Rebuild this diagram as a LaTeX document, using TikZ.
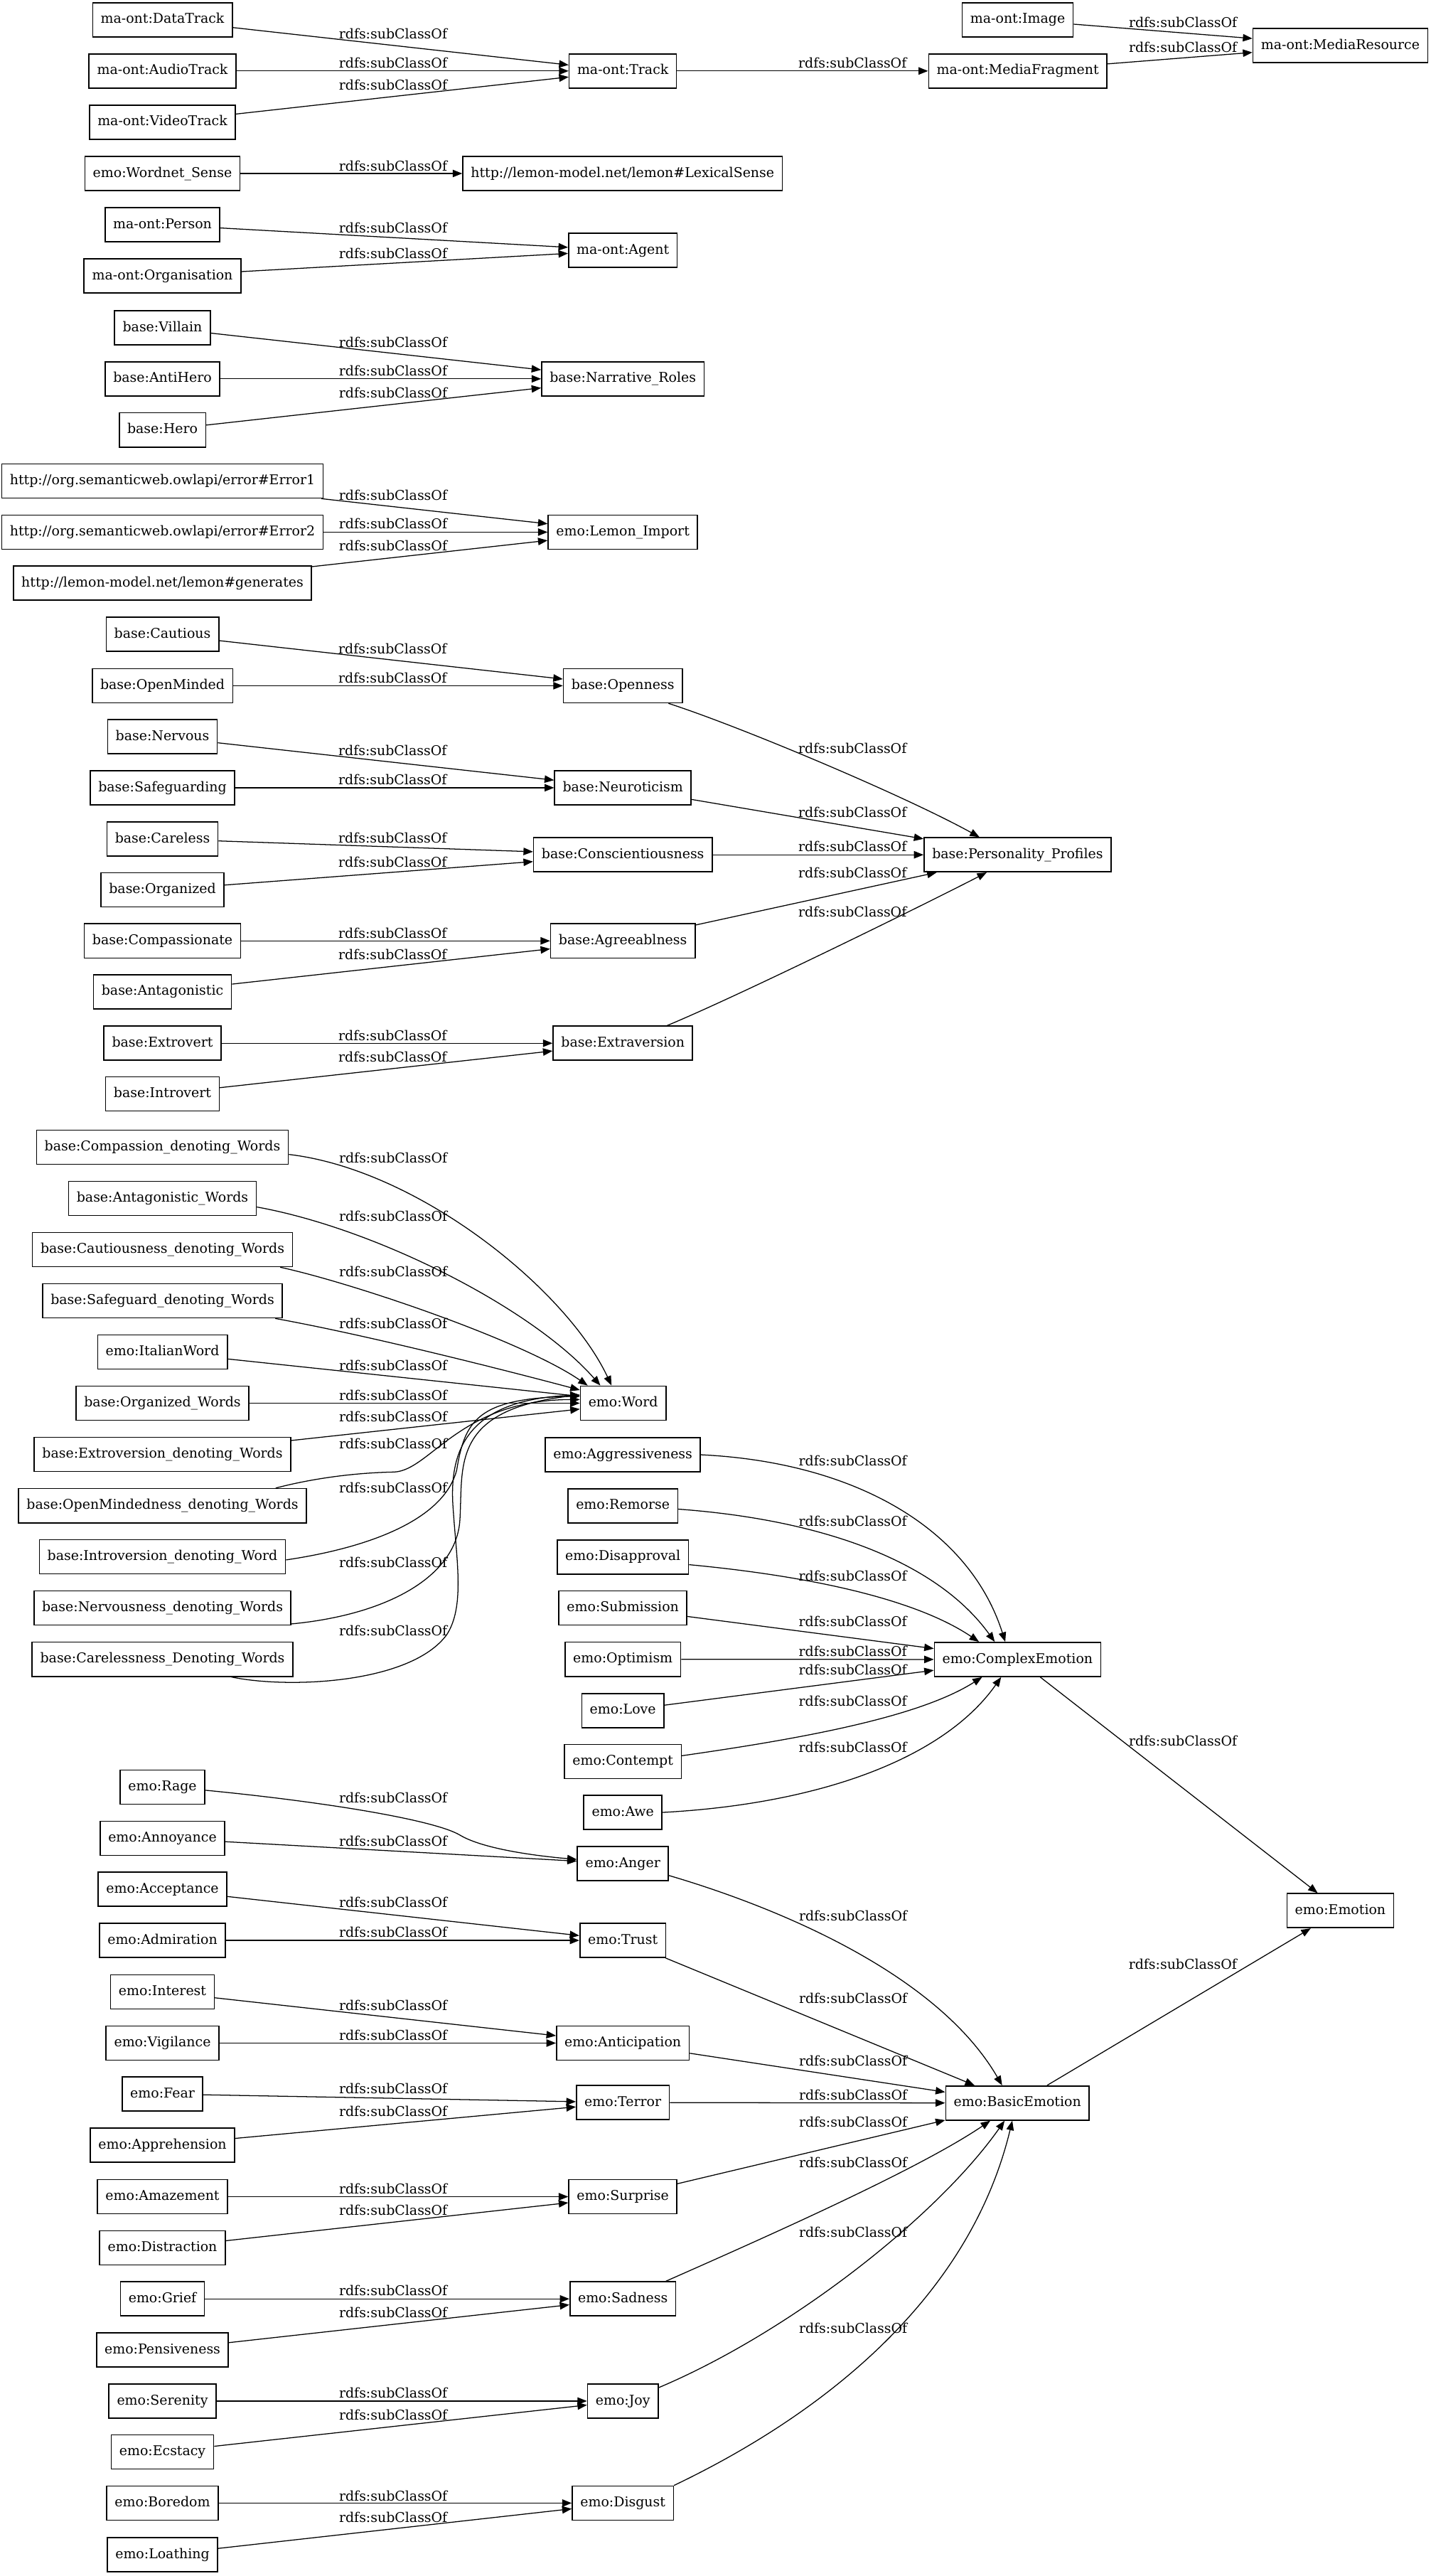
\documentclass[tikz,border=0pt]{standalone}
\usepackage{fontspec}
\setmainfont{DejaVu Serif}
\usetikzlibrary{arrows.meta}
\begin{document}
\begin{tikzpicture}[x=1pt,y=-1pt,
  cls/.style={draw, line width=0.7pt, rectangle, inner xsep=4.9pt, inner ysep=0pt,
    minimum height=20.8pt, text height=6.2pt, text depth=1.8pt,
    font=\fontsize{8.2}{9}\selectfont},
  lbl/.style={inner sep=0pt, font=\fontsize{8.2}{9}\selectfont},
  sub/.style={-{Triangle[length=5.8pt,width=4.5pt]}, line width=0.55pt}]
\useasboundingbox (0,0) rectangle (870.8,1568);
\fill[white] (0,0) rectangle (870.8,1568);

% ---------- media ontology ----------
\node[cls] (dt)     at (98.9,12.0)  {ma-ont:DataTrack};
\node[cls] (at)     at (98.9,43.2)  {ma-ont:AudioTrack};
\node[cls] (vt)     at (98.9,74.4)  {ma-ont:VideoTrack};
\node[cls] (track)  at (379.2,43.2) {ma-ont:Track};
\node[cls] (mf)     at (619.6,43.2) {ma-ont:MediaFragment};
\node[cls] (img)    at (619.6,12.0) {ma-ont:Image};
\node[cls] (mr)     at (816.0,27.7) {ma-ont:MediaResource};
\node[cls] (ws)     at (98.9,105.6) {emo:Wordnet\_Sense};
\node[cls] (ls)     at (379.0,105.6) {http://lemon-model.net/lemon\#LexicalSense};
\node[cls] (person) at (98.9,136.8) {ma-ont:Person};
\node[cls] (org)    at (98.9,168.0) {ma-ont:Organisation};
\node[cls] (agent)  at (379.2,152.4) {ma-ont:Agent};

% ---------- narrative roles ----------
\node[cls] (villain)  at (98.9,199.5) {base:Villain};
\node[cls] (antihero) at (98.9,230.6) {base:AntiHero};
\node[cls] (hero)     at (98.9,261.7) {base:Hero};
\node[cls] (nr)       at (379.2,230.6) {base:Narrative\_Roles};

% ---------- lemon import ----------
\node[cls] (err1)  at (98.9,292.8) {http://org.semanticweb.owlapi/error\#Error1};
\node[cls] (err2)  at (98.9,323.9) {http://org.semanticweb.owlapi/error\#Error2};
\node[cls] (gen)   at (98.9,355.0) {http://lemon-model.net/lemon\#generates};
\node[cls] (lemon) at (379.2,323.9) {emo:Lemon\_Import};

% ---------- personality ----------
\node[cls] (cautious)      at (98.9,386.1) {base:Cautious};
\node[cls] (openminded)    at (98.9,417.4) {base:OpenMinded};
\node[cls] (nervous)       at (98.9,448.4) {base:Nervous};
\node[cls] (safeguarding)  at (98.9,479.5) {base:Safeguarding};
\node[cls] (careless)      at (98.9,510.7) {base:Careless};
\node[cls] (organized)     at (98.9,541.6) {base:Organized};
\node[cls] (compassionate) at (98.9,572.7) {base:Compassionate};
\node[cls] (antagonistic)  at (98.9,603.7) {base:Antagonistic};
\node[cls] (extrovert)     at (98.9,635.0) {base:Extrovert};
\node[cls] (introvert)     at (98.9,665.9) {base:Introvert};
\node[cls] (openness) at (379.2,417.4) {base:Openness};
\node[cls] (neuro)    at (379.2,479.5) {base:Neuroticism};
\node[cls] (consc)    at (379.2,520.3) {base:Conscientiousness};
\node[cls] (agree)    at (379.2,572.7) {base:Agreeablness};
\node[cls] (extra)    at (379.2,635.0) {base:Extraversion};
\node[cls] (pp)       at (619.5,520.3) {base:Personality\_Profiles};

% ---------- words ----------
\node[cls] (cdw)     at (98.9,698.3)  {base:Compassion\_denoting\_Words};
\node[cls] (aw)      at (98.9,729.4)  {base:Antagonistic\_Words};
\node[cls] (cadw)    at (98.9,760.6)  {base:Cautiousness\_denoting\_Words};
\node[cls] (sdw)     at (98.9,791.8)  {base:Safeguard\_denoting\_Words};
\node[cls] (italian) at (98.9,823.0)  {emo:ItalianWord};
\node[cls] (ow)      at (98.9,854.1)  {base:Organized\_Words};
\node[cls] (edw)     at (98.9,885.3)  {base:Extroversion\_denoting\_Words};
\node[cls] (omdw)    at (98.9,916.5)  {base:OpenMindedness\_denoting\_Words};
\node[cls] (idw)     at (98.9,947.6)  {base:Introversion\_denoting\_Word};
\node[cls] (ndw)     at (98.9,978.8)  {base:Nervousness\_denoting\_Words};
\node[cls] (cldw)    at (98.9,1010.0) {base:Carelessness\_Denoting\_Words};
\node[cls] (word)    at (379.4,854.1) {emo:Word};

% ---------- complex emotions ----------
\node[cls] (aggr)        at (379.2,885.5)  {emo:Aggressiveness};
\node[cls] (remorse)     at (379.2,916.6)  {emo:Remorse};
\node[cls] (disapproval) at (379.2,947.7)  {emo:Disapproval};
\node[cls] (submission)  at (379.2,978.8)  {emo:Submission};
\node[cls] (optimism)    at (379.2,1010.0) {emo:Optimism};
\node[cls] (love)        at (379.2,1041.2) {emo:Love};
\node[cls] (contempt)    at (379.2,1072.2) {emo:Contempt};
\node[cls] (awe)         at (379.2,1103.2) {emo:Awe};
\node[cls] (ce)          at (619.5,1010.1) {emo:ComplexEmotion};
\node[cls] (emotion)     at (816.0,1163.0) {emo:Emotion};

% ---------- basic emotions ----------
\node[cls] (rage)         at (98.9,1087.8) {emo:Rage};
\node[cls] (annoyance)    at (98.9,1118.9) {emo:Annoyance};
\node[cls] (acceptance)   at (98.9,1150.0) {emo:Acceptance};
\node[cls] (admiration)   at (98.9,1181.1) {emo:Admiration};
\node[cls] (interest)     at (98.9,1212.5) {emo:Interest};
\node[cls] (vigilance)    at (98.9,1243.6) {emo:Vigilance};
\node[cls] (fear)         at (98.9,1274.6) {emo:Fear};
\node[cls] (apprehension) at (98.9,1305.7) {emo:Apprehension};
\node[cls] (amazement)    at (98.9,1337.1) {emo:Amazement};
\node[cls] (distraction)  at (98.9,1368.2) {emo:Distraction};
\node[cls] (grief)        at (98.9,1399.3) {emo:Grief};
\node[cls] (pensiveness)  at (98.9,1430.4) {emo:Pensiveness};
\node[cls] (serenity)     at (98.9,1461.5) {emo:Serenity};
\node[cls] (ecstacy)      at (98.9,1492.5) {emo:Ecstacy};
\node[cls] (boredom)      at (98.9,1523.6) {emo:Boredom};
\node[cls] (loathing)     at (98.9,1555.0) {emo:Loathing};
\node[cls] (anger)        at (379.2,1134.4) {emo:Anger};
\node[cls] (trust)        at (379.2,1181.1) {emo:Trust};
\node[cls] (anticipation) at (379.2,1243.6) {emo:Anticipation};
\node[cls] (terror)       at (379.2,1279.8) {emo:Terror};
\node[cls] (surprise)     at (379.2,1337.1) {emo:Surprise};
\node[cls] (sadness)      at (379.2,1399.3) {emo:Sadness};
\node[cls] (joy)          at (379.2,1461.5) {emo:Joy};
\node[cls] (disgust)      at (379.2,1523.6) {emo:Disgust};
\node[cls] (be)           at (619.4,1280.1) {emo:BasicEmotion};

% ---------- edge labels ----------
\foreach \lx/\ly [count=\i] in {
  239.3/20.7, 239.3/38.4, 239.3/51.7, 519.0/38.4, 720.2/13.4, 720.2/28.8,
  239.3/101.0, 239.3/138.8, 239.3/154.2,
  239.3/208.2, 239.3/225.7, 239.3/239.1,
  239.3/301.3, 239.3/318.9, 239.3/332.3,
  239.0/394.8, 239.0/412.7, 239.0/456.9, 239.0/474.7, 239.0/510.0,
  239.0/524.7, 239.0/567.9, 239.0/581.2, 239.0/630.2, 239.0/643.3,
  519.0/455.3, 519.0/494.6, 519.0/515.4, 519.0/531.3, 519.0/554.9,
  239.4/704.9, 239.4/740.2, 239.4/774.0, 239.4/805.6, 239.4/831.2, 239.4/849.1,
  239.4/862.4, 239.4/878.7, 239.4/905.5, 239.4/950.9, 239.4/992.5,
  519.2/889.1, 519.2/925.8, 519.2/959.4, 519.2/987.1, 519.2/1005.1,
  519.2/1016.3, 519.2/1035.4, 519.2/1063.5, 720.2/1059.7,
  519.4/1166.2, 519.4/1216.4, 519.4/1254.3, 519.4/1275.0, 519.4/1291.8,
  519.4/1316.4, 519.4/1358.8, 519.4/1417.1, 720.1/1195.7,
  239.4/1094.3, 239.4/1120.5, 239.4/1158.1, 239.4/1176.2, 239.4/1220.6,
  239.4/1238.7, 239.4/1271.4, 239.4/1285.3, 239.4/1332.3, 239.4/1345.2,
  239.4/1394.4, 239.4/1407.4, 239.4/1456.6, 239.4/1469.9, 239.4/1519.1,
  239.4/1532.1}
  \node[lbl] (lab\i) at (\lx,\ly) {rdfs:subClassOf};

% ---------- edges: media ----------
\draw[sub] (dt) -- (track);
\draw[sub] (at) -- (track);
\draw[sub] (vt) -- (track);
\draw[sub] (track) -- (mf);
\draw[sub] (img) -- (mr);
\draw[sub] (mf) -- (mr);
\draw[sub] (ws) -- (ls);
\draw[sub] (person) -- (agent);
\draw[sub] (org) -- (agent);
\draw[sub] (villain) -- (nr);
\draw[sub] (antihero) -- (nr);
\draw[sub] (hero) -- (nr);
\draw[sub] (err1) -- (lemon);
\draw[sub] (err2) -- (lemon);
\draw[sub] (gen) -- (lemon);

% ---------- edges: personality ----------
\draw[sub] (cautious) -- (openness);
\draw[sub] (openminded) -- (openness);
\draw[sub] (nervous) -- (neuro);
\draw[sub] (safeguarding) -- (neuro);
\draw[sub] (careless) -- (consc);
\draw[sub] (organized) -- (consc);
\draw[sub] (compassionate) -- (agree);
\draw[sub] (antagonistic) -- (agree);
\draw[sub] (extrovert) -- (extra);
\draw[sub] (introvert) -- (extra);
\draw[sub] ([xshift=-8.8pt]openness.south east) .. controls (450,442) and (550,484) .. ([xshift=-23.2pt]pp.north);
\draw[sub] (neuro) -- (pp);
\draw[sub] (consc) -- (pp);
\draw[sub] (agree) -- (pp);
\draw[sub] ([xshift=-15.9pt]extra.north east) .. controls (450,606) and (560,552) .. ([xshift=-18.8pt]pp.south);

% ---------- edges: words ----------
\draw[sub] ([yshift=-4.4pt]cdw.east) .. controls (255,712) and (345,785) .. ([xshift=-7.1pt]word.north);
\draw[sub] ([yshift=-5.3pt]aw.east) .. controls (230,748) and (325,797) .. ([xshift=-13.9pt]word.north);
\draw[sub] ([xshift=-7.8pt]cadw.south east) .. controls (215,781) and (318,816) .. ([xshift=-21.6pt]word.north);
\draw[sub] ([xshift=-4.6pt]sdw.south east) .. controls (220,812) and (300,832) .. ([yshift=8pt]word.west);
\draw[sub] (italian) -- ([yshift=4.2pt]word.west);
\draw[sub] (ow) -- (word);
\draw[sub] (edw) -- ([yshift=-3.6pt]word.west);
\draw[sub] ([xshift=-19pt]omdw.north east) .. controls (190,900) and (215,896.5) .. (240,896)
           .. controls (262,895) and (280,852) .. ([yshift=2.2pt]word.west);
\draw[sub] ([yshift=-1.9pt]idw.east) .. controls (225,942) and (270,925) .. (278,895)
           .. controls (283,865) and (290,851) .. ([yshift=4.2pt]word.west);
\draw[sub] ([yshift=1.1pt]ndw.south east) .. controls (235,983) and (278,960) .. (280,925)
           .. controls (282,892) and (274,858) .. ([yshift=5pt]word.west);
\draw[sub] ([xshift=41.9pt]cldw.south) .. controls (175,1028) and (250,1025) .. (272,995)
           .. controls (283,978) and (278,950) .. (276,920)
           .. controls (273,885) and (282,852) .. ([yshift=5pt]word.west);

% ---------- edges: complex emotions ----------
\draw[sub] (aggr.east) .. controls (520,890) and (590,930) .. ([xshift=-7.5pt]ce.north);
\draw[sub] ([yshift=-2pt]remorse.east) .. controls (500,925) and (570,950) .. ([xshift=-13.9pt]ce.north);
\draw[sub] ([yshift=-4.7pt]disapproval.east) .. controls (500,960) and (560,975) .. ([xshift=-23.5pt]ce.north);
\draw[sub] (submission) -- (ce);
\draw[sub] (optimism) -- (ce);
\draw[sub] (love) -- (ce);
\draw[sub] ([yshift=3.5pt]contempt.east) .. controls (490,1058) and (560,1045) .. ([xshift=-21.6pt]ce.south);
\draw[sub] (awe.east) .. controls (500,1098) and (575,1070) .. ([xshift=-10pt]ce.south);
\draw[sub] (ce) -- (emotion);

% ---------- edges: basic emotions ----------
\draw[sub] ([yshift=-1.9pt]rage.east) .. controls (200,1097) and (265,1108) .. (280,1117)
           .. controls (295,1126) and (330,1130) .. ([yshift=2.6pt]anger.west);
\draw[sub] (annoyance) -- (anger);
\draw[sub] (acceptance) -- (trust);
\draw[sub] (admiration) -- (trust);
\draw[sub] (interest) -- (anticipation);
\draw[sub] (vigilance) -- (anticipation);
\draw[sub] (fear) -- (terror);
\draw[sub] (apprehension) -- (terror);
\draw[sub] (amazement) -- (surprise);
\draw[sub] (distraction) -- (surprise);
\draw[sub] (grief) -- (sadness);
\draw[sub] (pensiveness) -- (sadness);
\draw[sub] (serenity) -- (joy);
\draw[sub] (ecstacy) -- (joy);
\draw[sub] (boredom) -- (disgust);
\draw[sub] (loathing) -- (disgust);

\draw[sub] ([yshift=-7.2pt]anger.east) .. controls (470,1160) and (570,1200) .. ([xshift=-9.3pt]be.north);
\draw[sub] (trust) -- (be);
\draw[sub] (anticipation) -- (be);
\draw[sub] (terror) -- (be);
\draw[sub] (surprise) -- (be);
\draw[sub] ([xshift=-6.4pt]sadness.north east) .. controls (470,1360) and (560,1320) .. ([xshift=-16.5pt]be.south);
\draw[sub] ([yshift=8.2pt]joy.east) .. controls (480,1420) and (570,1350) .. ([xshift=-7.8pt]be.south);
\draw[sub] (disgust.north east) .. controls (500,1470) and (590,1400) .. ([xshift=-3.1pt]be.south);
\draw[sub] (be) -- (emotion);
\end{tikzpicture}
\end{document}
